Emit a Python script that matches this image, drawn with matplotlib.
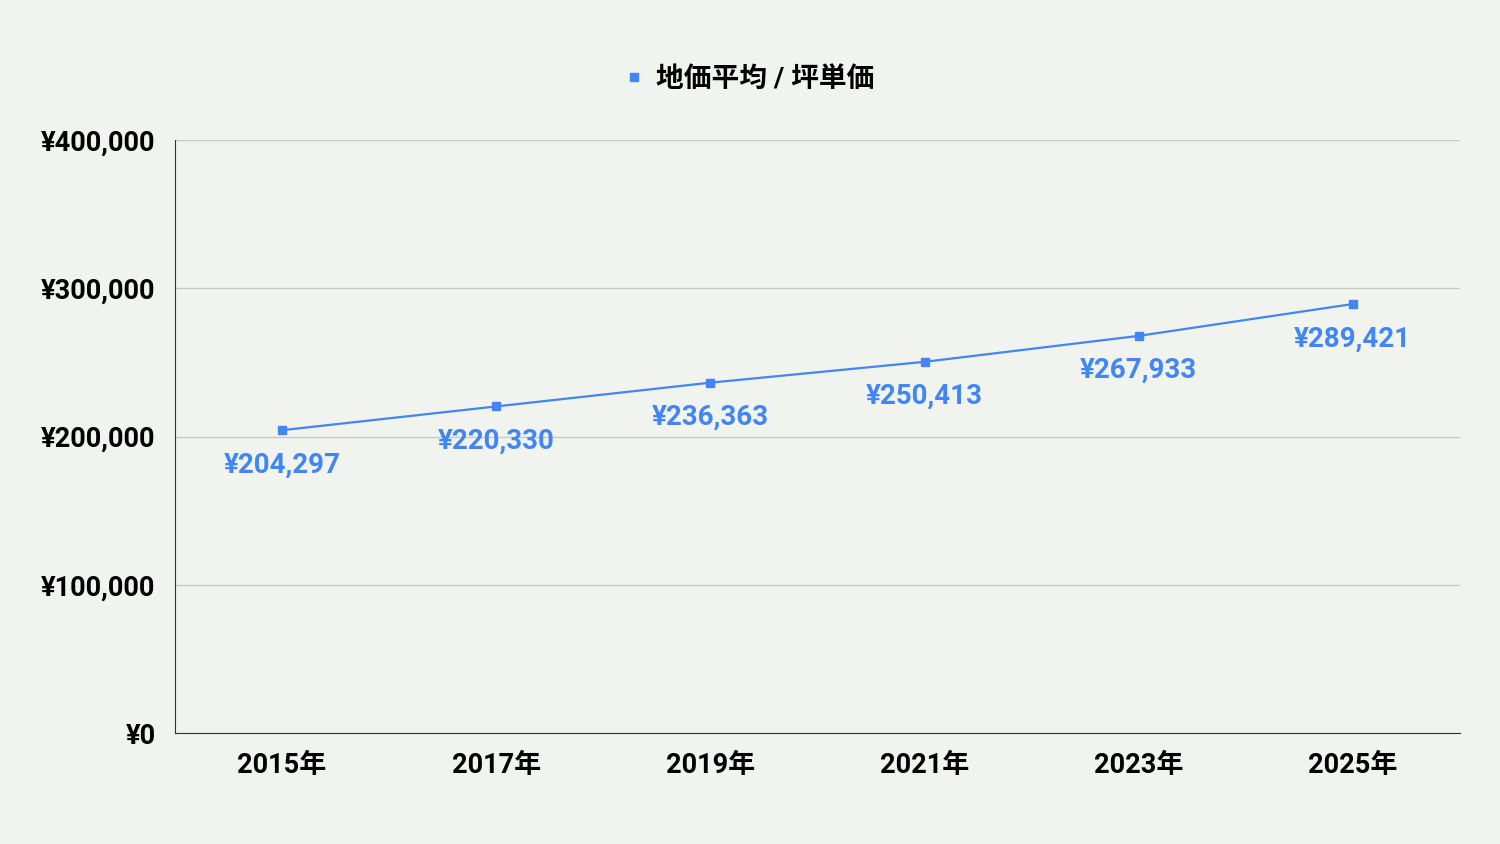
import matplotlib
matplotlib.use("Agg")
import matplotlib.pyplot as plt
from matplotlib.ticker import FuncFormatter

years = ["2015年", "2017年", "2019年", "2021年", "2023年", "2025年"]
values = [204297, 220330, 236363, 250413, 267933, 289421]
series_name = "地価平均 / 坪単価"

fam = ["Roboto", "Noto Sans CJK JP", "DejaVu Sans"]
plt.rcParams["font.family"] = fam
bg = "#f1f4ee"
blue = "#4285f4"

fig = plt.figure(figsize=(15, 8.44), dpi=100, facecolor=bg)
ax = fig.add_axes([0.1167, 0.1315, 0.8566, 0.7025], facecolor=bg)
x = list(range(len(years)))
ax.plot(x, values, color=blue, lw=1.6, marker="s", ms=6, label=series_name)
for xi, v in zip(x, values):
    ax.annotate(f"¥{v:,}", (xi, v), xytext=(0, -25), textcoords="offset points",
                ha="center", va="center", color=blue, fontsize=20, fontweight="bold")
ax.set_xlim(-0.5, 5.5)
ax.set_ylim(0, 400000)
ax.set_yticks([0, 100000, 200000, 300000, 400000])
ax.yaxis.set_major_formatter(FuncFormatter(lambda v, p: f"¥{int(v):,}"))
ax.set_xticks(x)
ax.set_xticklabels(years)
ax.tick_params(axis="both", length=0, labelsize=19.5, pad=14)
ax.tick_params(axis="y", pad=14)
for lab in ax.get_xticklabels() + ax.get_yticklabels():
    lab.set_fontweight("bold")
ax.grid(axis="y", color="#c8c8c8", lw=1)
for s in ["top", "right"]:
    ax.spines[s].set_visible(False)
ax.spines["left"].set_color("#333333")
ax.spines["bottom"].set_color("#333333")
leg = fig.legend(*ax.get_legend_handles_labels(), loc="center",
                 bbox_to_anchor=(0.5, 1 - 79 / 844), frameon=False,
                 prop={"family": fam, "size": 20, "weight": "bold"},
                 handlelength=0.6, handletextpad=0.5)
for h in leg.legend_handles:
    h.set_linestyle("none")
fig.savefig("out.png", dpi=100, facecolor=bg)
